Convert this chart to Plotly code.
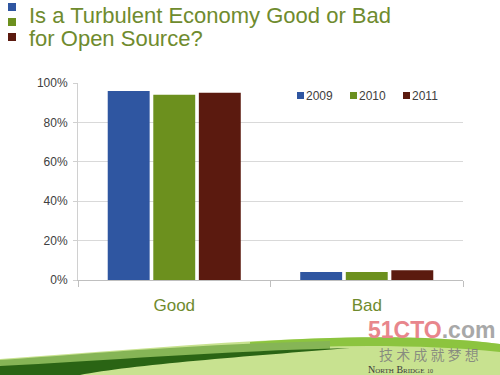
import plotly.graph_objects as go

categories = ["Good", "Bad"]
years = ["2009", "2010", "2011"]
values_2009 = [0.96, 0.04]
values_2010 = [0.94, 0.04]
values_2011 = [0.95, 0.05]
series = [values_2009, values_2010, values_2011]
colors = ["#2F56A1", "#6C901E", "#5B1A0F"]
tick_vals = [0, 0.2, 0.4, 0.6, 0.8, 1.0]
tick_text = ["0%", "20%", "40%", "60%", "80%", "100%"]
title_lines = ["Is a Turbulent Economy Good or Bad", "for Open Source?"]

W, H = 500, 375
L, R, T, B = 78, 463, 83, 280


def px(x):
    return (x - L) / (R - L)


def py(y):
    return (B - y) / (B - T)


fig = go.Figure()
for name, vals, col in zip(years, series, colors):
    fig.add_trace(go.Bar(x=categories, y=vals, name=name, marker_color=col,
                         marker_line_width=0, showlegend=False))

shapes = []
annotations = []

# title bullets
for i, col in enumerate(colors):
    y0 = 3 + i * 15
    shapes.append(dict(type="rect", xref="paper", yref="paper",
                       x0=px(8), x1=px(16), y0=py(y0), y1=py(y0 + 8),
                       fillcolor=col, line_width=0, layer="above"))

# title text
for i, line in enumerate(title_lines):
    annotations.append(dict(text=line, xref="paper", yref="paper", x=px(27), y=py(1 + i * 23),
                            xanchor="left", yanchor="top", showarrow=False, align="left",
                            font=dict(family="Liberation Sans, Arial", size=22, color="#6F8B2E")))

# legend (manual, compact like the original)
for i, (name, col) in enumerate(zip(years, colors)):
    lx = 297 + i * 53
    shapes.append(dict(type="rect", xref="paper", yref="paper",
                       x0=px(lx), x1=px(lx + 7), y0=py(99), y1=py(92),
                       fillcolor=col, line_width=0, layer="above"))
    annotations.append(dict(text=name, xref="paper", yref="paper", x=px(lx + 7), y=py(96),
                            xanchor="left", yanchor="middle", showarrow=False,
                            font=dict(family="Liberation Sans, Arial", size=12, color="#404040")))

# green swoosh decoration
light = (f"M {px(0)},{py(359)} C {px(100)},{py(352)} {px(200)},{py(343)} {px(300)},{py(339)} "
         f"C {px(380)},{py(336)} {px(450)},{py(337)} {px(500)},{py(344)} "
         f"L {px(500)},{py(375)} L {px(0)},{py(375)} Z")
shapes.append(dict(type="path", xref="paper", yref="paper", path=light,
                   fillcolor="#C8E290", line_width=0, layer="below"))
bright = (f"M {px(250)},{py(342)} C {px(330)},{py(337)} {px(420)},{py(334)} {px(500)},{py(344)} "
          f"L {px(500)},{py(352)} C {px(430)},{py(345)} {px(340)},{py(344)} {px(250)},{py(350)} Z")
shapes.append(dict(type="path", xref="paper", yref="paper", path=bright,
                   fillcolor="#8CC43F", line_width=0, layer="below"))
mid = (f"M {px(0)},{py(360)} C {px(100)},{py(353)} {px(200)},{py(344)} {px(330)},{py(341)} "
       f"L {px(330)},{py(349)} C {px(220)},{py(352)} {px(100)},{py(362)} {px(0)},{py(368)} Z")
shapes.append(dict(type="path", xref="paper", yref="paper", path=mid,
                   fillcolor="#86B556", line_width=0, layer="below"))
dark = (f"M {px(0)},{py(366)} C {px(100)},{py(361)} {px(220)},{py(351)} {px(350)},{py(348)} "
        f"C {px(250)},{py(356)} {px(130)},{py(365)} {px(80)},{py(375)} L {px(0)},{py(375)} Z")
shapes.append(dict(type="path", xref="paper", yref="paper", path=dark,
                   fillcolor="#2A6414", line_width=0, layer="below"))

# watermark texts
annotations += [
    dict(text='<b><span style="color:#E8868C">51CTO</span><span style="color:#A8A8A8">.com</span></b>',
         xref="paper", yref="paper", x=px(431), y=py(330),
         xanchor="center", yanchor="middle", showarrow=False,
         font=dict(family="Liberation Sans Narrow, Liberation Sans", size=23)),
    dict(text="技 术 成 就 梦 想", xref="paper", yref="paper", x=px(429), y=py(354),
         xanchor="center", yanchor="middle", showarrow=False,
         font=dict(family="Noto Sans CJK SC", size=14, color="rgba(125,125,125,0.85)")),
    dict(text="N<span style='font-size:7px'>ORTH</span> B<span style='font-size:7px'>RIDGE</span> <span style='font-size:6px'>10</span>",
         xref="paper", yref="paper", x=px(366), y=py(369),
         xanchor="left", yanchor="middle", showarrow=False,
         font=dict(family="Liberation Serif", size=10, color="#3A3A3A")),
]

fig.update_layout(
    width=W, height=H,
    margin=dict(l=L, r=W - R, t=T, b=H - B, pad=0),
    paper_bgcolor="white", plot_bgcolor="white",
    barmode="group", bargap=0.29, bargroupgap=0.08,
    font=dict(family="Liberation Sans, Arial", size=12, color="#404040"),
    showlegend=False,
    shapes=shapes, annotations=annotations,
)
fig.update_yaxes(range=[0, 1.0], tickvals=tick_vals, ticktext=tick_text,
                 showgrid=True, gridcolor="#D9D9D9", gridwidth=1,
                 showline=True, linecolor="#D0D0D0", linewidth=1,
                 ticks="outside", ticklen=4, tickcolor="#D0D0D0",
                 ticklabelstandoff=3,
                 zeroline=False, tickfont=dict(size=12, color="#404040"))
fig.update_xaxes(showline=True, linecolor="#BFBFBF", linewidth=1,
                 ticks="outside", tickson="boundaries", ticklen=6, tickcolor="#BFBFBF",
                 ticklabelstandoff=10,
                 tickfont=dict(size=17, color="#6F8B2E"))

fig.write_html("out.html", config={"displayModeBar": False},
               post_script="document.body.style.margin='0';")
